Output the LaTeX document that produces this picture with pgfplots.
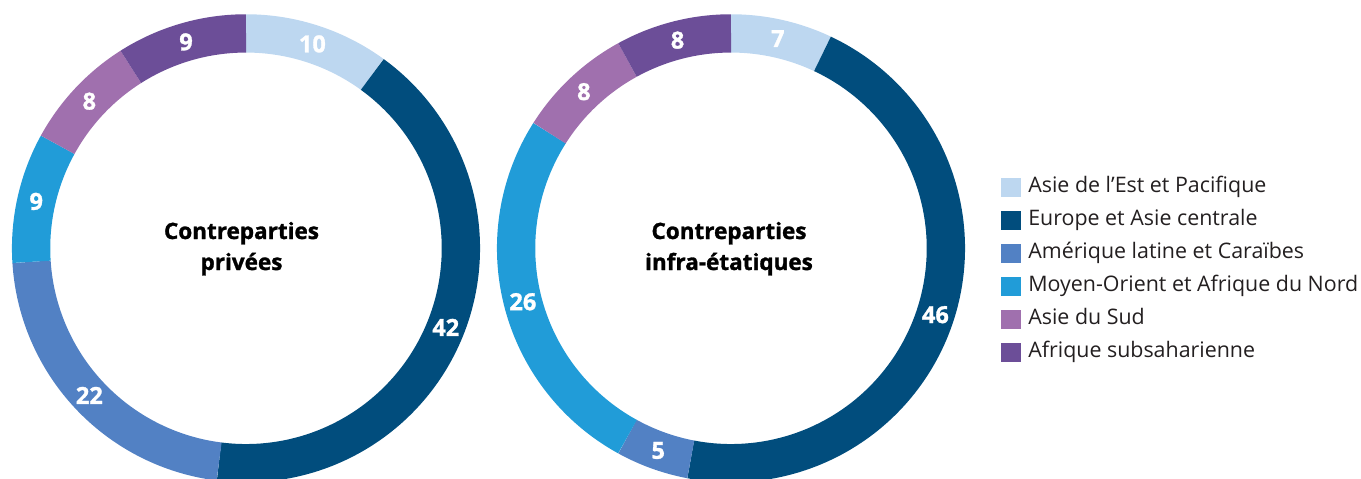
\documentclass[border=0pt]{standalone}
\usepackage{fontspec}
\setmainfont{Open Sans}
\newfontfamily\heavyfont{Open Sans}[BoldFeatures={FakeBold=1.3}]
\usepackage{pgfplots}
\usepackage{pgfplotstable}
\pgfplotsset{compat=1.18}

\definecolor{eap}{RGB}{189,215,240}
\definecolor{eca}{RGB}{1,77,125}
\definecolor{lac}{RGB}{82,129,196}
\definecolor{mena}{RGB}{33,156,216}
\definecolor{sa}{RGB}{160,112,174}
\definecolor{ssa}{RGB}{108,78,152}
\definecolor{legtext}{RGB}{35,31,32}

\pgfplotstableread{
val col
10 eap
42 eca
22 lac
9 mena
8 sa
9 ssa
}\dataprivees

\pgfplotstableread{
val col
7 eap
46 eca
5 lac
26 mena
8 sa
8 ssa
}\datainfra

\tikzset{
  lbl/.style={text=white, font=\heavyfont\bfseries\fontsize{23.5}{24}\selectfont, inner sep=0pt},
  ttl/.style={text=black, font=\heavyfont\bfseries\fontsize{22.5}{22}\selectfont, inner sep=0pt, anchor=base},
}

\newcommand{\donut}[3]{%
  \pgfplotstablegetrowsof{#3}\pgfmathtruncatemacro\nrows{\pgfplotsretval-1}%
  \def\tot{0}%
  \pgfplotsforeachungrouped \i in {0,...,\nrows}{%
    \pgfplotstablegetelem{\i}{val}\of{#3}\pgfmathsetmacro\tot{\tot+\pgfplotsretval}}%
  \def\cum{0}%
  \pgfplotsforeachungrouped \i in {0,...,\nrows}{%
    \pgfplotstablegetelem{\i}{val}\of{#3}\let\segval\pgfplotsretval
    \pgfplotstablegetelem{\i}{col}\of{#3}\let\segcol\pgfplotsretval
    \pgfmathsetmacro\angA{90-360*(\cum/\tot)}%
    \pgfmathsetmacro\cum{\cum+\segval}%
    \pgfmathsetmacro\angB{90-360*(\cum/\tot)}%
    \pgfmathsetmacro\angM{(\angA+\angB)/2}%
    \pgfmathsetmacro\lx{#1+214.9*cos(\angM)}%
    \pgfmathsetmacro\ly{#2-214.9*sin(\angM)}%
    \edef\cmd{\noexpand\addplot[forget plot, draw=\segcol, line width=38.3pt, domain=\angB:\angA, samples=120, variable=\noexpand\t] ({#1+214.9*cos(\noexpand\t)},{#2-214.9*sin(\noexpand\t)});
      \noexpand\node[lbl] at (axis cs:\lx,\ly) {\segval};}%
    \cmd
  }%
}

\begin{document}
\begin{tikzpicture}
\begin{axis}[
  scale only axis, width=1361pt, height=479pt,
  xmin=0, xmax=1361, ymin=0, ymax=479, y dir=reverse,
  hide axis, clip=true,
  legend style={at={(axis cs:998,175.5)}, anchor=north west, draw=none, fill=none,
    font=\fontsize{21.4}{24}\selectfont, text=legtext, row sep=14pt,
    nodes={inner sep=0pt, text height=14pt, text depth=4pt}},
  legend cell align=left,
]
\donut{246}{248.3}{\dataprivees}
\donut{731}{248.3}{\datainfra}
\node[ttl] at (axis cs:241.5,239) {Contreparties};
\node[ttl] at (axis cs:241.5,270) {privées};
\node[ttl] at (axis cs:729,239) {Contreparties};
\node[ttl] at (axis cs:729,270) {infra-étatiques};
\addlegendimage{legend image code/.code={\fill[eap] (0pt,-9.3pt) rectangle (18.6pt,9.3pt); \path (26.7pt,0pt);}}
\addlegendentry{Asie de l’Est et Pacifique}
\addlegendimage{legend image code/.code={\fill[eca] (0pt,-9.3pt) rectangle (18.6pt,9.3pt); \path (26.7pt,0pt);}}
\addlegendentry{Europe et Asie centrale}
\addlegendimage{legend image code/.code={\fill[lac] (0pt,-9.3pt) rectangle (18.6pt,9.3pt); \path (26.7pt,0pt);}}
\addlegendentry{Amérique latine et Caraïbes}
\addlegendimage{legend image code/.code={\fill[mena] (0pt,-9.3pt) rectangle (18.6pt,9.3pt); \path (26.7pt,0pt);}}
\addlegendentry{Moyen-Orient et Afrique du Nord}
\addlegendimage{legend image code/.code={\fill[sa] (0pt,-9.3pt) rectangle (18.6pt,9.3pt); \path (26.7pt,0pt);}}
\addlegendentry{Asie du Sud}
\addlegendimage{legend image code/.code={\fill[ssa] (0pt,-9.3pt) rectangle (18.6pt,9.3pt); \path (26.7pt,0pt);}}
\addlegendentry{Afrique subsaharienne}
\end{axis}
\pgfresetboundingbox
\path[use as bounding box] (current axis.south west) rectangle (current axis.north east);
\end{tikzpicture}
\end{document}
